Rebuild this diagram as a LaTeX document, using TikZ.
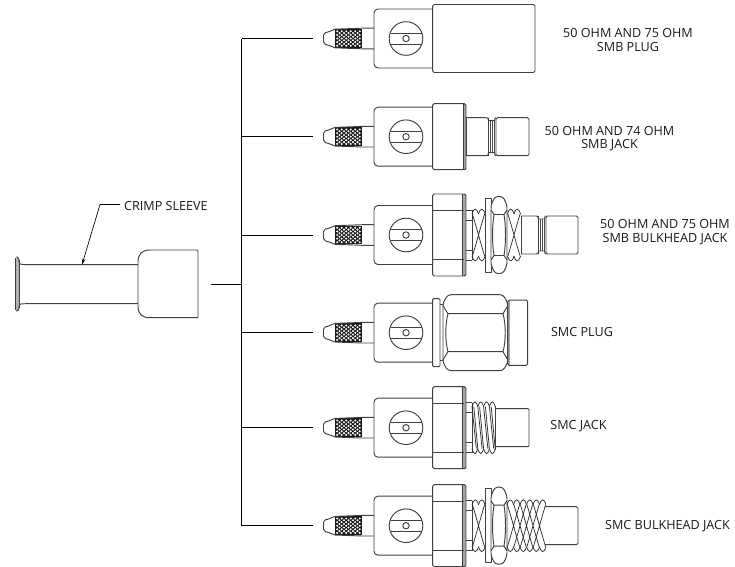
\documentclass[tikz,border=0pt]{standalone}
\usepackage{fontspec}
\setmainfont{Open Sans}
\usetikzlibrary{arrows.meta}
\tikzset{
  part/.style={draw=black!75,line width=0.95pt,line join=round},
  thin part/.style={draw=black!70,line width=0.6pt},
  thread part/.style={draw=black!85,line width=0.7pt},
  wire/.style={draw=black,line width=0.65pt},
  caption/.style={font=\fontsize{12.6}{13.6}\selectfont,text=black!90,align=center,inner sep=0pt}
}
% crimp end shared by every connector, drawn around y=0
\newcommand\crimpend{
  \fill[black!90] (335,-9.3) rectangle (362,9.3);
  \foreach \kx in {0,...,5} \foreach \ky in {-2,...,2}
    \fill[white] (337.2+\kx*4.5,\ky*3.6) circle (1.15);
  \foreach \kx in {0,...,4} \foreach \ky in {-2,...,1}
    \fill[white] (339.5+\kx*4.5,\ky*3.6+1.8) circle (1.15);
  \draw[part] (335,-9.3) -- (328,-6.5) [rounded corners=2pt] -- (323.5,-5.5) -- (323.5,5.5) -- (328,6.5) [sharp corners] -- (335,9.3);
  \draw[part] (335,-9.3) -- (362,-10.3) -- (374,-10.3) (335,9.3) -- (362,10.3) -- (374,10.3);
  \draw[part,rounded corners=4pt,fill=white] (432.7,-29.5) -- (374,-29.5) -- (374,29.5) -- (432.7,29.5);
  \draw[part] (406,0) circle (16.8);
  \draw[part] (390.5,-5.5) -- (421.5,-5.5) (390.5,5.5) -- (421.5,5.5);
  \draw[part] (406,0) circle (3.2);
}
% hexagon flange with the short step behind it
\newcommand\hexflange{
  \fill[black!35] (462.5,-41) rectangle (466,41);
  \draw[part,rounded corners=1.5pt] (432.7,-41) rectangle (466,41);
  \draw[part] (432.7,-24.5) -- (464,-24.5) (432.7,24.5) -- (464,24.5) (462.5,-41) -- (462.5,41);
  \draw[part] (466,-25) -- (472,-25) (466,25) -- (472,25) (466,-15) -- (472,-15) (466,15) -- (472,15) (472,-25) -- (472,25);
}
% washer and nut
\newcommand\bulknut{
  \draw[part,fill=white] (485,-37) rectangle (491,37);
  \draw[part,fill=white,rounded corners=3pt] (491,-30) -- (495,-38.5) -- (503,-38.5) -- (507,-30) -- (507,30) -- (503,38.5) -- (495,38.5) -- (491,30) -- cycle;
  \draw[part] (491,-25) -- (494,-20.5) -- (504,-20.5) -- (507,-25) (491,25) -- (494,20.5) -- (504,20.5) -- (507,25);
  \draw[part] (494,-20.5) .. controls (492,-8) and (492,8) .. (494,20.5) (504,-20.5) .. controls (506,-8) and (506,8) .. (504,20.5);
}
% crossed thread, #1 start, #2 turns
\newcommand\crossthread[2]{
  \foreach \tn in {1,...,#2} {
    \pgfmathsetmacro\ta{#1+(\tn-1)*6.5}
    \pgfmathsetmacro\tb{#1+\tn*6.5}
    \draw[thread part] (\ta,-21) .. controls (\ta+2,-27.5) and (\tb-2,-27.5) .. (\tb,-21) (\ta,21) .. controls (\ta+2,27.5) and (\tb-2,27.5) .. (\tb,21);
    \ifnum\tn<#2
      \draw[thread part] (\ta+0.4,-21) .. controls (\ta+5,-6) and (\ta+8,6) .. (\ta+12.6,21) (\ta+0.4,21) .. controls (\ta+5,6) and (\ta+8,-6) .. (\ta+12.6,-21);
    \fi
  }
}
% neck, groove and snap end of the SMB parts, #1 start, #2 groove, #3 end
\newcommand\snapend[3]{
  \draw[part] (#1,-19) -- (#2-2,-19) .. controls (#2,-19) .. (#2+0.5,-16) -- (#2+6.5,-16) .. controls (#2+7,-19) .. (#2+8,-19) (#1,19) -- (#2-2,19) .. controls (#2,19) .. (#2+0.5,16) -- (#2+6.5,16) .. controls (#2+7,19) .. (#2+8,19);
  \draw[part] (#2,-19) -- (#2,19);
  \draw[thin part] (#2+2,-16) -- (#2+2,16) (#2+4,-16) -- (#2+4,16) (#2+6,-16) -- (#2+6,16);
  \draw[part,rounded corners=1.5pt] (#2+8,-19) rectangle (#3,19);
}
\begin{document}
\begin{tikzpicture}[x=1pt,y=-1pt]
  \clip (0,0) rectangle (735,566);
  % bus
  \coordinate (busin) at (241.5,284);
  \coordinate (sleeveout) at (211,284);
  \foreach \rowname/\cy in {plug/38.5,jack/136.7,bulk/235,smcplug/332.7,smcjack/427.7,smcbulk/525.7} {
    \coordinate (bus\rowname) at (241.5,\cy);
    \coordinate (end\rowname) at (313,\cy);
    \draw[wire] (bus\rowname) -- (end\rowname);
    \begin{scope}[shift={(0,\cy)}]
      \crimpend
    \end{scope}
  }
  \draw[wire] (busplug) -- (bussmcbulk);
  \draw[wire] (sleeveout) -- (busin);
  % crimp sleeve
  \fill[black!30] (15.8,258) rectangle (19,310.5);
  \draw[part,rounded corners=1.5pt] (15.8,257) -- (18.5,257) -- (19,262) .. controls (20,264) .. (24,264.7) -- (138,264.7);
  \draw[part,rounded corners=1.5pt] (15.8,311) -- (18.5,311) -- (19,306) .. controls (20,304) .. (24,303.7) -- (138,303.7);
  \draw[part] (15.8,258) -- (15.8,310) (19,260) -- (19,308);
  \draw[part,rounded corners=1pt] (198,317.7) -- (198,250) -- (150,250);
  \draw[part] (150,250) .. controls (142,250) and (138,254) .. (138,262) -- (138,306) .. controls (138,314) and (142,317.7) .. (150,317.7) -- (198,317.7);
  \coordinate (sleevetop) at (82,264.7);
  \coordinate (leaderbend) at (100,204.5);
  \node[caption,anchor=west] (sleevelabel) at (124,205.5) {CRIMP SLEEVE};
  \draw[wire,-{Stealth[length=6pt,width=3.5pt]}] (sleevelabel.west) ++(-4,-1) -- (leaderbend) -- (sleevetop);
  % SMB plug
  \begin{scope}[shift={(0,38.5)}]
    \draw[part,rounded corners=1.5pt] (432.7,-34) rectangle (535,34);
  \end{scope}
  % SMB jack
  \begin{scope}[shift={(0,136.7)}]
    \fill[black!35] (463.5,-33) rectangle (466,33);
    \draw[part,rounded corners=1.5pt] (432.7,-33) rectangle (466,33);
    \draw[part] (463.5,-33) -- (463.5,33);
    \draw[part] (466,-19) -- (466,19);
    \snapend{466}{488}{529}
  \end{scope}
  % SMB bulkhead jack
  \begin{scope}[shift={(0,235)}]
    \hexflange
    \crossthread{472}{2}
    \bulknut
    \crossthread{507.5}{2}
    \draw[part] (521,-19) -- (521,19);
    \snapend{521}{538}{578}
  \end{scope}
  % SMC plug
  \begin{scope}[shift={(0,332.7)}]
    \draw[part,fill=white,rounded corners=1pt] (432.7,-34) rectangle (440,34);
    \draw[part] (440,-28) -- (443,-28) (440,28) -- (443,28);
    \fill[black!35] (507.7,-32.6) rectangle (510,32.6);
    \draw[part,rounded corners=1.5pt] (507.7,-32.6) rectangle (527.7,32.6);
    \draw[part,fill=white,rounded corners=3pt] (443,-30) -- (448,-38) -- (503,-38) -- (507.7,-30) -- (507.7,30) -- (503,38) -- (448,38) -- (443,30) -- cycle;
    \draw[part] (443,-27) -- (448,-19) -- (503,-19) -- (507.7,-27) (443,27) -- (448,19) -- (503,19) -- (507.7,27);
    \draw[part] (448,-19) .. controls (445,-8) and (445,8) .. (448,19) (503,-19) .. controls (506,-8) and (506,8) .. (503,19);
  \end{scope}
  % SMC jack
  \begin{scope}[shift={(0,427.7)}]
    \hexflange
    \foreach \tn in {0,...,3} {
      \pgfmathsetmacro\ta{472+\tn*5.8}
      \pgfmathsetmacro\tb{\ta+5.8}
      \draw[thread part] (\ta,-21) .. controls (\ta+2,-27.5) and (\tb-2,-27.5) .. (\tb,-21) (\ta,21) .. controls (\ta+2,27.5) and (\tb-2,27.5) .. (\tb,21);
      \draw[thread part] (\ta,-21) -- (\tb-1.5,21) (\ta+1.8,-21) -- (\tb,21);
    }
    \draw[part,rounded corners=1pt] (495,-19) -- (529,-19) -- (529,19) -- (495,19);
    \draw[part] (495,-22) -- (495,22);
  \end{scope}
  % SMC bulkhead jack
  \begin{scope}[shift={(0,525.7)}]
    \hexflange
    \crossthread{472}{2}
    \bulknut
    \crossthread{507}{6}
    \draw[part,rounded corners=1.5pt] (545,-19) -- (578,-19) -- (578,19) -- (545,19);
  \end{scope}
  % labels
  \node[caption] (plugtext) at (628,40) {50 OHM AND 75 OHM\\SMB PLUG};
  \node[caption] (jacktext) at (609.5,138.5) {50 OHM AND 74 OHM\\SMB JACK};
  \node[caption] (bulktext) at (665,232) {50 OHM AND 75 OHM\\SMB BULKHEAD JACK};
  \node[caption] (smcplugtext) at (582,332) {SMC PLUG};
  \node[caption] (smcjacktext) at (578.5,426) {SMC JACK};
  \node[caption] (smcbulktext) at (667.5,526) {SMC BULKHEAD JACK};
\end{tikzpicture}
\end{document}
